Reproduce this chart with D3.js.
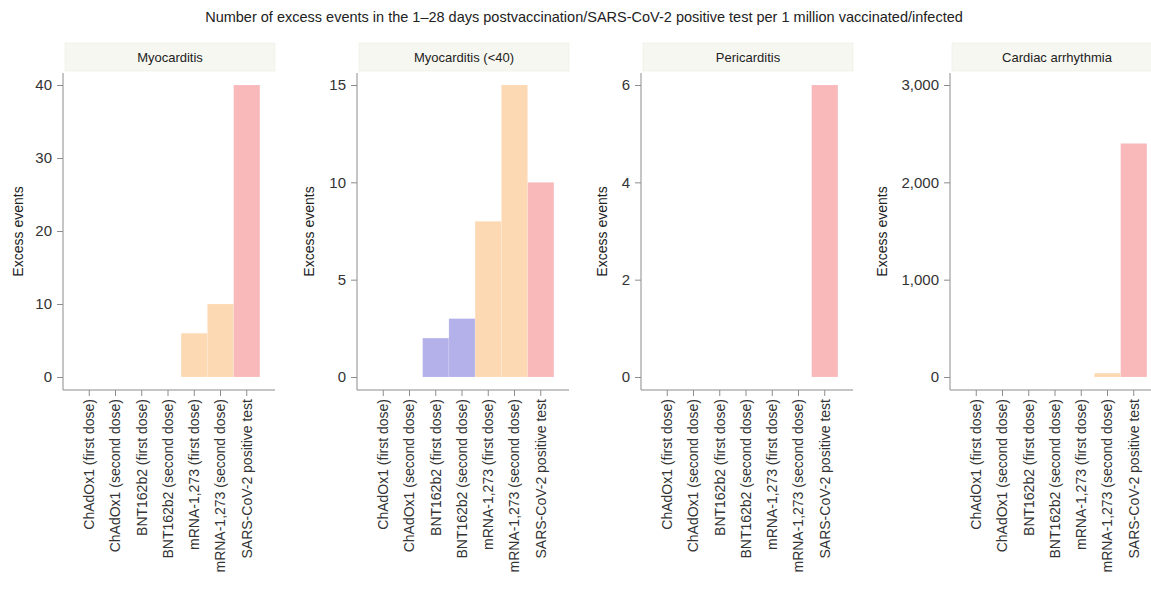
<!DOCTYPE html>
<html>
<head>
<meta charset="utf-8">
<script src="https://cdn.jsdelivr.net/npm/d3@7"></script>
<style>
  html, body { margin: 0; padding: 0; background: #fff; }
  svg { display: block; font-family: "Liberation Sans", Arial, sans-serif; }
</style>
</head>
<body>
<svg id="chart" width="1151" height="589"></svg>
<script>
const title = "Number of excess events in the 1–28 days postvaccination/SARS-CoV-2 positive test per 1 million vaccinated/infected";
const categories = [
  "ChAdOx1 (first dose)",
  "ChAdOx1 (second dose)",
  "BNT162b2 (first dose)",
  "BNT162b2 (second dose)",
  "mRNA-1,273 (first dose)",
  "mRNA-1,273 (second dose)",
  "SARS-CoV-2 positive test"
];
const groups = ["ChAdOx1", "ChAdOx1", "BNT162b2", "BNT162b2", "mRNA-1273", "mRNA-1273", "SARS-CoV-2"];
const panelTitles = ["Myocarditis", "Myocarditis (<40)", "Pericarditis", "Cardiac arrhythmia"];
const myocarditis = [0, 0, 0, 0, 6, 10, 40];
const myocarditisUnder40 = [0, 0, 2, 3, 8, 15, 10];
const pericarditis = [0, 0, 0, 0, 0, 0, 6];
const arrhythmia = [0, 0, 0, 0, 0, 40, 2400];
const yTicks = [
  [0, 10, 20, 30, 40],
  [0, 5, 10, 15],
  [0, 2, 4, 6],
  [0, 1000, 2000, 3000]
];
const yAxisTitle = "Excess events";
const series = [myocarditis, myocarditisUnder40, pericarditis, arrhythmia];

const groupColor = d3.scaleOrdinal()
  .domain(["ChAdOx1", "BNT162b2", "mRNA-1273", "SARS-CoV-2"])
  .range(["#9ed9c8", "#b4b1ea", "#fdd9b3", "#f9b8ba"]);

const svg = d3.select("#chart");
const axisColor = "#8c8c8c";
const textColor = "#333";

svg.append("text")
  .attr("x", 584).attr("y", 22)
  .attr("text-anchor", "middle")
  .attr("font-size", 14.5)
  .attr("fill", "#222")
  .text(title);

// layout per panel
const panelLeft = [63, 357, 641, 950];
const yTitleX = [18, 309, 602, 882];
const plotW = 210;
const yTop = 85, yZero = 377, axisTop = 73, axisBottom = 390;

panelTitles.forEach((pt, i) => {
  const left = panelLeft[i];
  const g = svg.append("g");
  const vals = series[i];
  const tks = yTicks[i];
  const ymax = tks[tks.length - 1];

  const x = d3.scaleBand().domain(categories)
    .range([left, left + plotW]).paddingInner(0).paddingOuter(0.5);
  const y = d3.scaleLinear().domain([0, ymax]).range([yZero, yTop]);

  // strip
  g.append("rect")
    .attr("x", left + 2).attr("y", 43)
    .attr("width", plotW).attr("height", 28)
    .attr("fill", "#f7f7f1")
    .attr("stroke", "#efefe8").attr("stroke-width", 0.8);
  g.append("text")
    .attr("x", left + 2 + plotW / 2).attr("y", 62)
    .attr("text-anchor", "middle")
    .attr("font-size", 13).attr("fill", "#222")
    .text(pt);

  // bars
  g.selectAll("rect.bar").data(categories.map((c, j) => ({ c, v: vals[j], grp: groups[j] })))
    .join("rect")
    .attr("class", "bar")
    .attr("x", d => x(d.c))
    .attr("width", x.bandwidth())
    .attr("y", d => y(d.v))
    .attr("height", d => yZero - y(d.v))
    .attr("fill", d => groupColor(d.grp))
    .attr("stroke", "#ffffff").attr("stroke-opacity", 0.25).attr("stroke-width", 0.6);

  // y axis
  const ya = g.append("g").attr("transform", `translate(${left},0)`)
    .call(d3.axisLeft(y).tickValues(tks).tickSize(6).tickPadding(5)
      .tickFormat(d3.format(",")));
  ya.select(".domain").remove();
  ya.selectAll(".tick line").attr("stroke", axisColor);
  ya.selectAll(".tick text").attr("font-size", 15).attr("fill", textColor)
    .attr("font-family", "'Liberation Sans', Arial, sans-serif");
  g.append("line").attr("x1", left).attr("x2", left)
    .attr("y1", axisTop).attr("y2", axisBottom)
    .attr("stroke", axisColor).attr("stroke-width", 1);

  // x axis
  const xa = g.append("g").attr("transform", `translate(0,${axisBottom})`)
    .call(d3.axisBottom(x).tickSize(6).tickPadding(4));
  xa.select(".domain").remove();
  xa.selectAll(".tick line").attr("stroke", axisColor);
  xa.selectAll(".tick text")
    .attr("font-size", 14).attr("fill", textColor)
    .attr("font-family", "'Liberation Sans', Arial, sans-serif")
    .attr("text-anchor", "end")
    .attr("dy", "0.35em")
    .attr("transform", "translate(0,3) rotate(-90)")
    .attr("x", -6).attr("y", 0);
  g.append("line").attr("x1", left).attr("x2", left + plotW + 2)
    .attr("y1", axisBottom).attr("y2", axisBottom)
    .attr("stroke", axisColor).attr("stroke-width", 1);

  // y title
  g.append("text")
    .attr("transform", `translate(${yTitleX[i] + 5},${(axisTop + axisBottom) / 2}) rotate(-90)`)
    .attr("text-anchor", "middle")
    .attr("font-size", 14).attr("fill", "#222")
    .text(yAxisTitle);
});
</script>
</body>
</html>
